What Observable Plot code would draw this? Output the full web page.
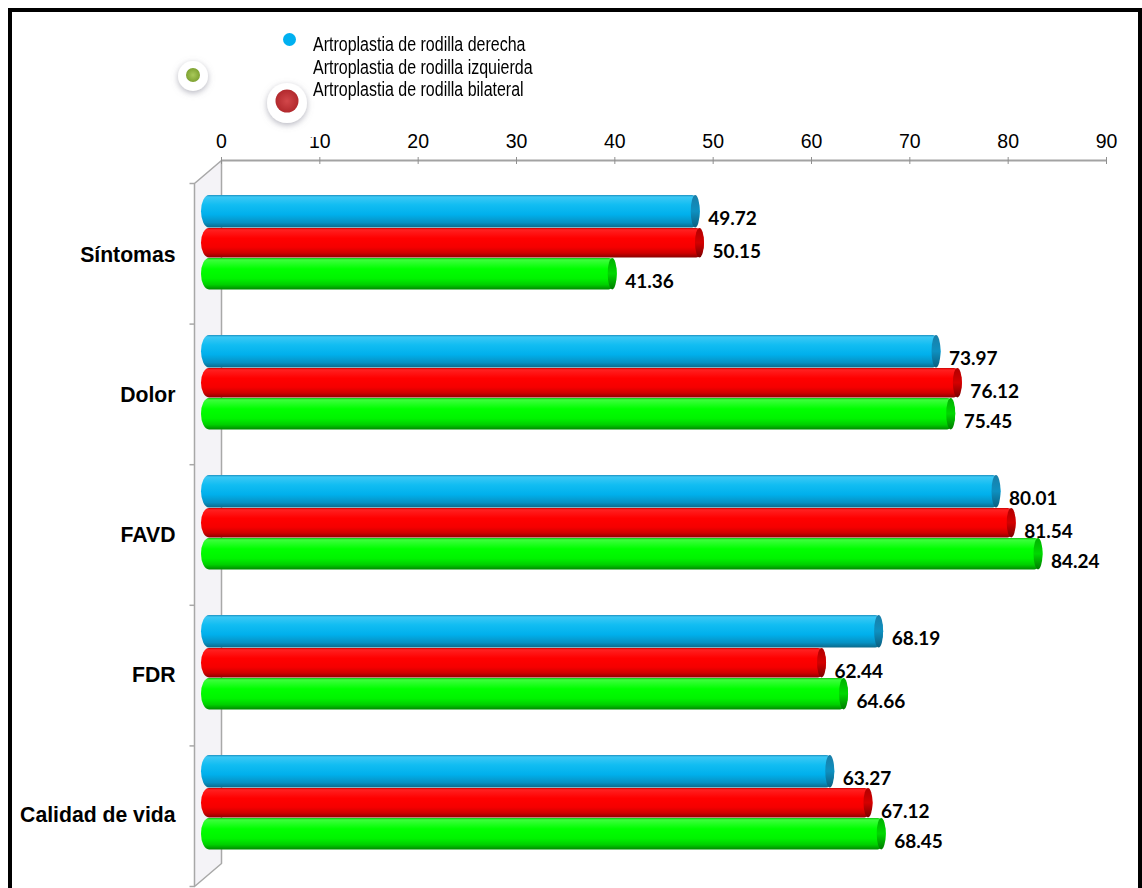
<!DOCTYPE html>
<html>
<head>
<meta charset="utf-8">
<script src="https://cdn.jsdelivr.net/npm/d3@7"></script>
<script src="https://cdn.jsdelivr.net/npm/@observablehq/plot@0.6"></script>
<style>
  body { margin: 0; background: #fff; }
  #root { position: relative; width: 1142px; height: 888px; overflow: hidden; background: #fff; }
  #root > svg, #root > .layer { position: absolute; left: 0; top: 0; }
  .frame { position: absolute; left: 8px; top: 8px; width: 1134px; height: 1000px; border: 4px solid #000; box-sizing: border-box; pointer-events: none; }
  .legend-text { position: absolute; left: 313px; top: 33px; font-family: "Liberation Sans", Arial, sans-serif; font-size: 19.5px; line-height: 22.5px; color: #000; transform: scaleX(0.82); transform-origin: 0 0; white-space: nowrap; }
  .cat-axis text { font-weight: bold; }
</style>
</head>
<body>
<div id="root"></div>
<script>
// KOOS subscales by type of knee arthroplasty
const categories = ["Síntomas", "Dolor", "FAVD", "FDR", "Calidad de vida"];
const seriesNames = [
  "Artroplastia de rodilla derecha",
  "Artroplastia de rodilla izquierda",
  "Artroplastia de rodilla bilateral"
];
const derecha   = [49.72, 73.97, 80.01, 68.19, 63.27];
const izquierda = [50.15, 76.12, 81.54, 62.44, 67.12];
const bilateral = [41.36, 75.45, 84.24, 64.66, 68.45];
const xTicks = [0, 10, 20, 30, 40, 50, 60, 70, 80, 90];

const seriesValues = [derecha, izquierda, bilateral];
const table = categories.flatMap((c, i) =>
  seriesValues.map((vals, k) => ({category: c, k, value: vals[i]}))
);

// Layout of the pseudo-3D plot box
const W = 1142, H = 888;
const BACK_TOP = 183, BACK_BOTTOM = 886;   // category axis along the back wall
const DEPTH_X = 27, DEPTH_Y = 23;          // depth of the side wall
const AXIS_LEFT = 221, AXIS_RIGHT = 1106;  // value axis on the front plane
const BAR_LEFT = 206, BAR_RIGHT = 1099.7;  // projected bar scale
const xMax = 90;
const bandH = (BACK_BOTTOM - BACK_TOP) / categories.length;
const barSlots = [[10, 43], [43, 73], [73, 105]]; // bar top/bottom inside a band
const labelDy = [-37, -4, 26];

// Cylinder shading for each series
const bodyStops = [
  [[0, "#1b8fc0"], [0.06, "#3cc8f4"], [0.3, "#12bdf2"], [0.6, "#00b0ec"], [0.85, "#0792c4"], [1, "#0a6a8c"]],
  [[0, "#c80000"], [0.06, "#ff2020"], [0.35, "#ff0000"], [0.65, "#f50000"], [0.85, "#d00000"], [1, "#8c0000"]],
  [[0, "#10c010"], [0.06, "#3bff3b"], [0.35, "#00ff00"], [0.65, "#00f400"], [0.85, "#00cf00"], [1, "#008c00"]]
];
const capStops = [
  [[0, "#1a7ea8"], [0.5, "#0e90c0"], [1, "#0b5f80"]],
  [[0, "#b00000"], [0.5, "#d40000"], [1, "#7a0000"]],
  [[0, "#00b000"], [0.5, "#00d800"], [1, "#007a00"]]
];

// ---- back layer: side wall and value axis ----
const pxX = (AXIS_RIGHT - AXIS_LEFT) / xMax;
const pxY = (BACK_BOTTOM - BACK_TOP) / categories.length;
const dxU = DEPTH_X / pxX, dyU = DEPTH_Y / pxY, n = categories.length;
const wallFill = [{x: -dxU, y1: 0, y2: n}, {x: 0, y1: -dyU, y2: n - dyU}];
const wallEdge = [
  {x: -dxU, y: 0}, {x: 0, y: -dyU}, {x: 0, y: n - dyU}, {x: -dxU, y: n}, {x: -dxU, y: 0}
];

const axisPlot = Plot.plot({
  width: W, height: H,
  marginTop: 163, marginLeft: 0, marginRight: 0, marginBottom: 0,
  x: {domain: [0, xMax], range: [AXIS_LEFT, AXIS_RIGHT]},
  y: {domain: [0, n], range: [BACK_TOP, BACK_BOTTOM], axis: null},
  style: {background: "#fff", fontFamily: "'Liberation Sans', Arial, sans-serif"},
  marks: [
    Plot.areaY(wallFill, {x: "x", y1: "y1", y2: "y2", fill: "#f4f3f7"}),
    Plot.line(wallEdge, {x: "x", y: "y", stroke: "#a8a8a8", strokeWidth: 1.5}),
    Plot.link(d3.range(n + 1), {x1: -dxU, x2: -dxU - 5 / pxX, y1: d => d, y2: d => d, stroke: "#a8a8a8", strokeWidth: 1.5}),
    Plot.ruleY([0], {x1: 0, x2: xMax, dy: -DEPTH_Y, stroke: "#a3a3a3", strokeWidth: 2}),
    Plot.axisX(xTicks, {anchor: "top", label: null, tickSize: 7, tickPadding: 9, fontSize: 19.5, stroke: "#8f8f8f", fill: "#000", tickFormat: d => String(d)})
  ]
});

// ---- front layer: cylinders, value labels, category labels ----
const barMarks = [0, 1, 2].flatMap(k => {
  const rows = table.filter(d => d.k === k);
  const [t, b] = barSlots[k];
  const common = {y: "category", insetTop: t, insetBottom: bandH - b, ry: (b - t) / 2};
  return [
    Plot.barX(rows, {...common, x: "value", insetLeft: -5, rx: 8, fill: `url(#body-${k})`}),
    Plot.barX(rows, {...common, x1: "value", x2: "value", insetLeft: -9, rx: 4.5, fill: `url(#cap-${k})`}),
    Plot.text(rows, {
      x: "value", y: "category", text: d => d.value.toFixed(2),
      dx: 8, dy: labelDy[k], textAnchor: "start",
      fontFamily: "Lato, 'Open Sans', sans-serif", fontWeight: 700, fontSize: 19, fill: "#000"
    })
  ];
});

const barPlot = Plot.plot({
  width: W, height: H,
  marginTop: BACK_TOP, marginLeft: 193, marginRight: 0, marginBottom: H - BACK_BOTTOM,
  x: {domain: [0, xMax], range: [BAR_LEFT, BAR_RIGHT], axis: null},
  y: {domain: categories, range: [BACK_TOP, BACK_BOTTOM], padding: 0},
  style: {background: "transparent", fontFamily: "'Liberation Sans', Arial, sans-serif"},
  marks: [
    Plot.axisY({label: null, tickSize: 0, tickPadding: 18, fontSize: 21.2, fontWeight: "bold", fill: "#000", className: "cat-axis"}),
    ...barMarks
  ]
});

// gradients used by the cylinders
const defs = d3.select(barPlot).insert("defs", ":first-child");
function addGradient(id, stops) {
  const g = defs.append("linearGradient").attr("id", id)
    .attr("x1", 0).attr("y1", 0).attr("x2", 0).attr("y2", 1);
  stops.forEach(([o, c]) => g.append("stop").attr("offset", o).attr("stop-color", c));
}
bodyStops.forEach((s, k) => addGradient(`body-${k}`, s));
capStops.forEach((s, k) => addGradient(`cap-${k}`, s));

const root = document.getElementById("root");
root.appendChild(axisPlot);
root.appendChild(barPlot);

// ---- legend ----
const legendSvg = d3.select(root).append("svg").attr("class", "layer")
  .attr("width", W).attr("height", 160);
const ldefs = legendSvg.append("defs");
ldefs.append("filter").attr("id", "halo").attr("x", "-50%").attr("y", "-50%").attr("width", "200%").attr("height", "200%")
  .append("feDropShadow").attr("dx", 0).attr("dy", 2).attr("stdDeviation", 3).attr("flood-color", "#7a7a8a").attr("flood-opacity", 0.55);
const markerGrad = ldefs.append("radialGradient").attr("id", "dot-green");
markerGrad.append("stop").attr("offset", 0).attr("stop-color", "#a9c95a");
markerGrad.append("stop").attr("offset", 1).attr("stop-color", "#7ea232");
const markerGrad2 = ldefs.append("radialGradient").attr("id", "dot-red");
markerGrad2.append("stop").attr("offset", 0).attr("stop-color", "#d2474a");
markerGrad2.append("stop").attr("offset", 1).attr("stop-color", "#b2292d");

// green marker
legendSvg.append("rect").attr("x", 170).attr("y", 56).attr("width", 48).attr("height", 44).attr("fill", "#fff");
legendSvg.append("circle").attr("cx", 193).attr("cy", 76).attr("r", 15).attr("fill", "#fff").attr("filter", "url(#halo)");
legendSvg.append("circle").attr("cx", 193).attr("cy", 75).attr("r", 7).attr("fill", "url(#dot-green)");
// red marker (its white patch hides the top of the "10" tick label)
legendSvg.append("rect").attr("x", 258).attr("y", 74).attr("width", 60).attr("height", 63).attr("fill", "#fff");
legendSvg.append("circle").attr("cx", 287).attr("cy", 103).attr("r", 20).attr("fill", "#fff").attr("filter", "url(#halo)");
legendSvg.append("circle").attr("cx", 287).attr("cy", 101).attr("r", 11.5).attr("fill", "url(#dot-red)");
// blue marker
legendSvg.append("circle").attr("cx", 289.5).attr("cy", 39.5).attr("r", 6.5).attr("fill", "#00b0f0");

const legendText = d3.select(root).append("div").attr("class", "legend-text");
seriesNames.forEach(s => legendText.append("div").text(s));

d3.select(root).append("div").attr("class", "frame");
</script>
</body>
</html>
